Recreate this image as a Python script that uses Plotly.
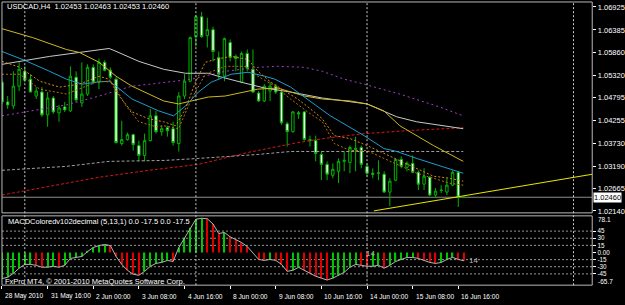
import plotly.graph_objects as go

W, H = 625, 305

# ---------------- data ----------------
bar_idx = list(range(-4, 78))   # H4 bars, 0 = 31 May 2010 00:00

opens = [1.05160, 1.04695, 1.04602, 1.05067,
         1.05415, 1.05230, 1.04835, 1.04928, 1.04393, 1.04788, 1.04440, 1.04579, 1.04486, 1.05276,
         1.04672, 1.04881, 1.05508, 1.05160, 1.05625, 1.05439, 1.05230, 1.03720, 1.03813, 1.03929,
         1.03673, 1.03441, 1.03789, 1.04370, 1.03998, 1.04091, 1.04068, 1.03720, 1.04835, 1.05183,
         1.06228, 1.06693, 1.06252, 1.06391, 1.05741, 1.05299, 1.06089, 1.05764, 1.05160, 1.05834,
         1.05462, 1.04904, 1.04719, 1.04951, 1.05067, 1.04928, 1.04184, 1.03998, 1.04440, 1.04463,
         1.03813, 1.03789, 1.03464, 1.03232, 1.02976, 1.03069, 1.03302, 1.03278, 1.03580, 1.03627,
         1.03185, 1.03023, 1.03023, 1.03000, 1.02581, 1.02860, 1.03348, 1.03162, 1.03255, 1.03046,
         1.02767, 1.02930, 1.02512, 1.02628, 1.02581, 1.02744, 1.03046, 1.02453]
highs = [1.05230, 1.04835, 1.05415, 1.05625,
         1.05532, 1.05346, 1.05044, 1.05044, 1.04928, 1.04835, 1.04626, 1.04695, 1.05532, 1.05415,
         1.05625, 1.05578, 1.05578, 1.05717, 1.05671, 1.05508, 1.05276, 1.04254, 1.03975, 1.03952,
         1.03789, 1.03952, 1.04533, 1.04486, 1.04138, 1.04138, 1.04231, 1.04928, 1.05346, 1.06228,
         1.06740, 1.06809, 1.06670, 1.06461, 1.05880, 1.06205, 1.06159, 1.05810, 1.05880, 1.05926,
         1.05926, 1.04951, 1.05113, 1.05160, 1.05113, 1.04997, 1.04231, 1.04486, 1.04486, 1.04486,
         1.03905, 1.03905, 1.03534, 1.03302, 1.03255, 1.03371, 1.03534, 1.03673, 1.03882, 1.03673,
         1.03255, 1.03139, 1.03325, 1.03069, 1.02907, 1.03371, 1.03418, 1.03302, 1.03441, 1.03092,
         1.03139, 1.02953, 1.02674, 1.02744, 1.02907, 1.03092, 1.03069, 1.02463]
lows = [1.04649, 1.04533, 1.04533, 1.04951,
        1.05160, 1.04928, 1.04765, 1.04347, 1.04115, 1.04417, 1.04231, 1.04463, 1.04463, 1.04695,
        1.04579, 1.04835, 1.05113, 1.04997, 1.05415, 1.05230, 1.03720, 1.03673, 1.03789, 1.03557,
        1.03302, 1.03302, 1.03766, 1.03952, 1.03905, 1.03882, 1.03673, 1.03534, 1.04765, 1.05160,
        1.05996, 1.06205, 1.05973, 1.05648, 1.05230, 1.05183, 1.05648, 1.05415, 1.05137, 1.05415,
        1.04904, 1.04695, 1.04695, 1.04719, 1.04881, 1.04161, 1.03650, 1.03975, 1.04300, 1.03789,
        1.03650, 1.03302, 1.02860, 1.02860, 1.02907, 1.02790, 1.03069, 1.03023, 1.03069, 1.03139,
        1.02953, 1.02907, 1.02860, 1.02558, 1.02256, 1.02837, 1.03139, 1.03069, 1.03023, 1.02628,
        1.02628, 1.02488, 1.02442, 1.02558, 1.02512, 1.02721, 1.02233, 1.02453]
closes = [1.04695, 1.04626, 1.05067, 1.05462,
          1.05206, 1.04928, 1.04951, 1.04393, 1.04788, 1.04463, 1.04556, 1.04509, 1.05299, 1.04742,
          1.04881, 1.05508, 1.05160, 1.05625, 1.05439, 1.05276, 1.03743, 1.03813, 1.03929, 1.03696,
          1.03441, 1.03789, 1.04370, 1.03998, 1.04068, 1.04022, 1.03743, 1.04835, 1.05183, 1.06205,
          1.06693, 1.06228, 1.06391, 1.05880, 1.05346, 1.06182, 1.05741, 1.05717, 1.05834, 1.05485,
          1.04928, 1.04719, 1.05067, 1.05067, 1.04928, 1.04207, 1.03998, 1.04463, 1.04417, 1.03813,
          1.03789, 1.03487, 1.03232, 1.03000, 1.03116, 1.03302, 1.03325, 1.03627, 1.03603, 1.03232,
          1.03023, 1.03000, 1.03030, 1.02581, 1.02837, 1.03348, 1.03185, 1.03255, 1.03046, 1.02767,
          1.02953, 1.02512, 1.02604, 1.02620, 1.02744, 1.03046, 1.02465, 1.02460]

macd_vals = [-55, -52, -44, -33,
             -25, -25, -27, -31, -31, -29, -31, -27, -12.5, -10.4,
             -8.3, 2, 10.4, 14.6, 16.7, 14.6, -8.3, -25, -37.5, -45.8,
             -47.9, -39.6, -29.2, -22.9, -20.8, -16.7, -18.8, 10.4, 31.2, 52,
             70, 72, 71, 60, 40, 42, 33, 27, 21, 12.5,
             0, -14.6, -16.7, -14.6, -16.7, -25, -39.6, -37.5, -31.2, -37.5,
             -43.8, -50, -54, -58, -54, -48, -41.7, -31, -25, -27,
             -29, -29, -27, -33, -27, -19, -14.6, -10.4, -10.4, -12.5,
             -16.7, -20.8, -23, -21, -14.6, -10.4, -14.6, -17.5]

# indicator lines (bar position, price)
sma_gray_x = [-4.0, 4.35, 9.57, 14.78, 15.65, 20.0, 24.35, 28.17, 32.17, 33.91, 37.91, 42.09, 46.61, 52.17, 60.0, 62.96, 65.22, 68.70, 76.87]
sma_gray_y = [1.05578, 1.05764, 1.05857, 1.05950, 1.05903, 1.05648, 1.05462, 1.05369, 1.05369, 1.05299, 1.05160, 1.05021, 1.04928, 1.04788, 1.04649, 1.04486, 1.04347, 1.04231, 1.04068]

ma_olive_x = [-4.0, 1.39, 7.30, 9.57, 13.04, 16.0, 18.78, 21.74, 24.35, 26.96, 29.22, 32.17, 35.13, 38.61, 40.87, 44.35, 46.61, 49.04, 52.17, 57.04, 60.0, 62.96, 65.74, 68.70, 71.65, 76.87]
ma_olive_y = [1.06414, 1.06205, 1.05926, 1.05857, 1.05625, 1.05299, 1.05067, 1.04881, 1.04719, 1.04649, 1.04719, 1.04811, 1.04835, 1.04928, 1.04997, 1.05021, 1.04928, 1.04835, 1.04765, 1.04719, 1.04649, 1.04486, 1.04138, 1.03905, 1.03673, 1.03302]

ma_cyan_x = [-4.0, 0, 4.35, 7.30, 10.09, 12.52, 14.78, 16.0, 18.78, 21.74, 23.48, 26.09, 28.17, 30.43, 32.70, 36.17, 39.13, 42.09, 43.83, 46.61, 49.57, 53.57, 56.52, 59.48, 62.96, 65.22, 68.70, 73.91, 76.87]
ma_cyan_y = [1.05880, 1.05671, 1.05415, 1.05230, 1.05113, 1.05160, 1.05183, 1.05067, 1.04765, 1.04579, 1.04486, 1.04370, 1.04602, 1.04928, 1.05160, 1.05346, 1.05392, 1.05299, 1.05230, 1.05044, 1.04765, 1.04370, 1.04138, 1.03905, 1.03603, 1.03534, 1.03371, 1.03139, 1.03023]

ma_purple_x = [-4.0, 1.39, 7.30, 13.04, 18.78, 23.48, 29.22, 35.13, 40.87, 44.35, 49.04, 52.17, 56.0, 59.48, 65.74, 72.70, 76.87]
ma_purple_y = [1.04370, 1.04486, 1.04626, 1.04835, 1.05067, 1.05137, 1.05230, 1.05415, 1.05508, 1.05532, 1.05508, 1.05415, 1.05230, 1.05113, 1.04881, 1.04579, 1.04370]

ma_orange1_x = [-4.0, -0.87, 2.61, 6.09, 9.57, 13.04, 14.78, 16.52, 18.78, 21.74, 24.35, 26.43, 28.17, 29.91, 31.65, 33.39, 36.17, 39.13, 40.87, 43.13, 45.57, 47.83, 50.09, 52.17, 54.26, 57.04, 60.0, 62.96, 65.74, 68.70, 71.65, 74.43, 76.87]
ma_orange1_y = [1.05648, 1.05508, 1.05183, 1.05044, 1.05113, 1.05299, 1.05230, 1.04835, 1.04463, 1.04300, 1.04231, 1.04138, 1.04533, 1.05160, 1.05625, 1.05694, 1.05764, 1.05694, 1.05415, 1.05160, 1.04951, 1.04765, 1.04533, 1.04300, 1.03905, 1.03836, 1.03673, 1.03487, 1.03325, 1.03139, 1.02953, 1.02907, 1.02837]

ma_orange2_x = [-4.0, -0.87, 2.61, 7.30, 10.78, 13.04, 15.30, 17.74, 20.0, 22.96, 24.35, 26.96, 29.22, 31.65, 35.13, 38.61, 40.87, 43.83, 46.61, 49.57, 52.17, 54.26, 57.04, 60.0, 62.96, 65.74, 68.70, 71.65, 74.43, 76.87]
ma_orange2_y = [1.05346, 1.05346, 1.04997, 1.04881, 1.05067, 1.05183, 1.05160, 1.04602, 1.04231, 1.04115, 1.04138, 1.04068, 1.04765, 1.05346, 1.05532, 1.05532, 1.05299, 1.05067, 1.04765, 1.04463, 1.04231, 1.03720, 1.03557, 1.03557, 1.03371, 1.03209, 1.03023, 1.02907, 1.02790, 1.02744]

ma_graydash_x = [-4.0, 7.30, 14.78, 24.70, 30.43, 40.87, 46.61, 76.87]
ma_graydash_y = [1.03092, 1.03185, 1.03302, 1.03325, 1.03371, 1.03464, 1.03534, 1.03534]

ma_red_x = [-4.0, 4.35, 13.04, 21.74, 30.43, 39.13, 47.83, 53.57, 59.48, 66.96, 76.87]
ma_red_y = [1.02512, 1.02721, 1.02930, 1.03092, 1.03232, 1.03511, 1.03743, 1.03859, 1.03952, 1.04022, 1.04091]

trend_x = [61.2, 99.5]
trend_y = [1.02140, 1.03000]

current_price = 1.02460
price_ticks = [1.06925, 1.06385, 1.05860, 1.05320, 1.04795, 1.04255, 1.03730, 1.03190, 1.02665, 1.02140]
macd_ticks = [45, 30, 15, 0, -15, -30, -45]
macd_tick_text = ["45", "30", "15", "0.00", "-15", "-30", "-45"]
macd_levels = [45, 30, 15, -15, -30, -45]
macd_max_label, macd_min_label = "78.1", "-65.7"

separators = [0, 30, 60, 96.2]
time_ticks = [-4, 4, 12, 20, 28, 36, 44, 52, 60, 68, 76]
time_labels = ["28 May 2010", "31 May 16:00", "2 Jun 00:00", "3 Jun 08:00", "4 Jun 16:00",
               "8 Jun 00:00", "9 Jun 08:00", "10 Jun 16:00", "14 Jun 00:00", "15 Jun 08:00", "16 Jun 16:00"]

header = "USDCAD,H4  1.02453 1.02463 1.02453 1.02460"
macd_title = "MACDColoredv102decimal (5,13,1) 0.0 -17.5 0.0 -17.5"
copyright_txt = "FxPro MT4, © 2001-2010 MetaQuotes Software Corp."

# ---------------- layout helpers ----------------
FONT = "Liberation Sans"
def px(x):
    return x / W
def py(y):
    return 1 - y / H

X0, X1 = 2, 597          # plot area left/right (px)
MAIN_T, MAIN_B = 2, 215
SUB_T, SUB_B = 218, 288

GREEN = "#00b400"

fig = go.Figure()

fig.add_trace(go.Candlestick(
    x=bar_idx, open=opens, high=highs, low=lows, close=closes,
    increasing=dict(line=dict(color=GREEN, width=1), fillcolor="#000000"),
    decreasing=dict(line=dict(color=GREEN, width=1), fillcolor="#ffffff"),
    whiskerwidth=0, xaxis="x", yaxis="y", hoverinfo="skip"))

def add_line(xs, ys, color, dash="solid", width=1):
    fig.add_trace(go.Scatter(x=xs, y=ys, mode="lines", xaxis="x", yaxis="y",
                             line=dict(color=color, width=width, dash=dash),
                             hoverinfo="skip"))

add_line(ma_red_x, ma_red_y, "#d01818", "3px,2px")
add_line(ma_graydash_x, ma_graydash_y, "#a0a0a0", "3px,2px")
add_line(ma_purple_x, ma_purple_y, "#a040c0", "2px,3px")
add_line(sma_gray_x, sma_gray_y, "#c8c8c8")
add_line(ma_olive_x, ma_olive_y, "#cdb820")
add_line(ma_cyan_x, ma_cyan_y, "#1f9ccc")
add_line(ma_orange1_x, ma_orange1_y, "#d88a10", "2px,2px")
add_line(ma_orange2_x, ma_orange2_y, "#b8700a", "2px,2px")
add_line(trend_x, trend_y, "#e8e800")

# MACD histogram + line
bar_colors = []
for i, v in enumerate(macd_vals):
    prev = macd_vals[i - 1] if i > 0 else v
    bar_colors.append("#00c800" if v >= prev else "#e00000")
fig.add_trace(go.Bar(x=bar_idx, y=macd_vals, base=0, width=0.22, xaxis="x", yaxis="y2",
                     marker=dict(color=bar_colors, line=dict(width=0)), hoverinfo="skip"))
fig.add_trace(go.Scatter(x=bar_idx, y=macd_vals, mode="lines", xaxis="x", yaxis="y2",
                         line=dict(color="#b4b4b4", width=1), hoverinfo="skip"))

shapes = []
# panel borders
for t, b in ((MAIN_T, MAIN_B), (SUB_T, SUB_B)):
    shapes.append(dict(type="rect", xref="paper", yref="paper", x0=px(X0), x1=px(X1),
                       y0=py(b), y1=py(t), line=dict(color="#b8b8b8", width=1), layer="above"))
# MACD levels
for lv in macd_levels:
    shapes.append(dict(type="line", xref="paper", yref="y2", x0=px(X0), x1=px(X1), y0=lv, y1=lv,
                       line=dict(color="#9a9a9a", width=1, dash="2px,2px"), layer="below"))
# current price line
shapes.append(dict(type="line", xref="paper", yref="y", x0=px(X0), x1=px(X1),
                   y0=current_price, y1=current_price, line=dict(color="#8c8c8c", width=1), layer="below"))
# period separators
for s in separators:
    shapes.append(dict(type="line", xref="x", yref="paper", x0=s, x1=s, y0=py(SUB_B), y1=py(MAIN_T),
                       line=dict(color="#c8c8c8", width=1, dash="2px,2px"), layer="above"))

annotations = []
annotations.append(dict(text=header, xref="paper", yref="paper", x=px(5), y=py(7), xanchor="left",
                        yanchor="middle", showarrow=False, font=dict(family=FONT, size=7.5, color="white")))
annotations.append(dict(text=macd_title, xref="paper", yref="paper", x=px(6), y=py(224), xanchor="left",
                        yanchor="middle", showarrow=False, font=dict(family=FONT, size=7.5, color="white")))
annotations.append(dict(text=copyright_txt, xref="paper", yref="paper", x=px(3), y=py(284), xanchor="left",
                        yanchor="middle", showarrow=False, font=dict(family=FONT, size=7.5, color="white")))
annotations.append(dict(text=f"{current_price:.5f}", xref="paper", yref="y", x=px(598), y=current_price,
                        xanchor="left", yanchor="middle", showarrow=False, bgcolor="white", borderpad=0,
                        font=dict(family=FONT, size=7.5, color="black")))
annotations.append(dict(text=macd_max_label, xref="paper", yref="paper", x=px(601), y=py(222),
                        xanchor="left", yanchor="middle", showarrow=False,
                        font=dict(family=FONT, size=6.5, color="white")))
annotations.append(dict(text=macd_min_label, xref="paper", yref="paper", x=px(601), y=py(284),
                        xanchor="left", yanchor="middle", showarrow=False,
                        font=dict(family=FONT, size=6.5, color="white")))
for tx, yv in ((59.5, -3), (77.5, -17)):
    annotations.append(dict(text="14", xref="x", yref="y2", x=tx, y=yv, xanchor="left", yanchor="middle",
                            showarrow=False, font=dict(family=FONT, size=8, color="#b4b4b4")))
for tv, tl in zip(time_ticks, time_labels):
    annotations.append(dict(text=tl, xref="x", yref="paper", x=tv, y=py(299), xanchor="left",
                            yanchor="middle", xshift=1, showarrow=False,
                            font=dict(family=FONT, size=6.6, color="white")))

fig.update_layout(
    width=W, height=H, margin=dict(l=0, r=0, t=0, b=0),
    paper_bgcolor="black", plot_bgcolor="black", showlegend=False,
    boxgap=0.4, hovermode=False,
    xaxis=dict(domain=[px(X0), px(X1)], range=[-4.0, 99.48], anchor="y2", showgrid=False,
               zeroline=False, showline=False, rangeslider=dict(visible=False),
               tickvals=time_ticks, ticks="outside", ticklen=3, tickcolor="white",
               showticklabels=False),
    yaxis=dict(domain=[py(MAIN_B), py(MAIN_T)], range=[1.020934, 1.070411], side="right",
               anchor="x", showgrid=False, zeroline=False, showline=False,
               tickvals=price_ticks, ticktext=[f"{v:.5f}" for v in price_ticks],
               ticks="outside", ticklen=3, tickcolor="white",
               tickfont=dict(family=FONT, size=7.5, color="white")),
    yaxis2=dict(domain=[py(SUB_B), py(SUB_T)], range=[-68.75, 77.08], side="right",
                anchor="x", showgrid=False, zeroline=False, showline=False,
                tickvals=macd_ticks, ticktext=macd_tick_text,
                ticks="outside", ticklen=3, tickcolor="white",
                tickfont=dict(family=FONT, size=6.3, color="white")),
    shapes=shapes, annotations=annotations,
)

fig.write_html("out.html", config={"displayModeBar": False})
